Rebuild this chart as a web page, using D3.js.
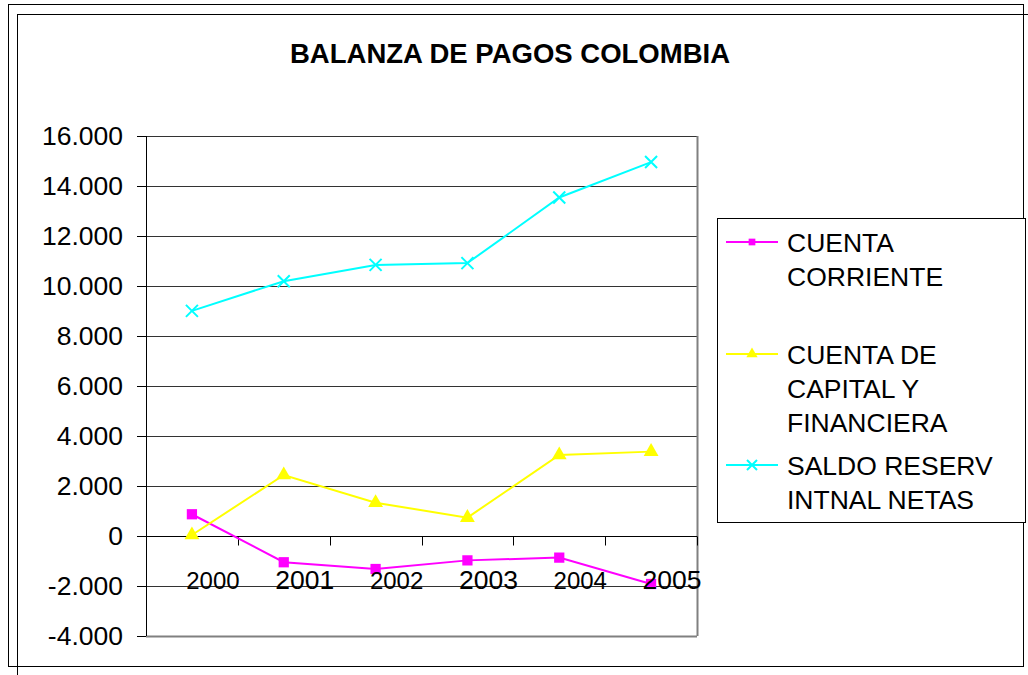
<!DOCTYPE html>
<html>
<head>
<meta charset="utf-8">
<script src="https://cdn.jsdelivr.net/npm/d3@7"></script>
<style>
  body { margin: 0; background: #fff; }
  svg { display: block; font-family: "Liberation Sans", Arial, sans-serif; }
</style>
</head>
<body>
<div id="chart-area"></div>
<script>
// data
var years = ['2000', '2001', '2002', '2003', '2004', '2005'];
var cuentaCorriente = [870, -1050, -1320, -975, -865, -1920];
var cuentaCapital = [40, 2440, 1330, 735, 3240, 3375];
var saldoReservas = [9006, 10192, 10844, 10916, 13540, 14957];
var yTicks = [-4000, -2000, 0, 2000, 4000, 6000, 8000, 10000, 12000, 14000, 16000];
var seriesNames = [['CUENTA', 'CORRIENTE'], ['CUENTA DE', 'CAPITAL Y', 'FINANCIERA'], ['SALDO RESERV', 'INTNAL NETAS']];

var W = 1028, H = 675;
var margin = { top: 136, left: 146, right: 331, bottom: 39 };
var width = W - margin.left - margin.right,
    height = H - margin.top - margin.bottom;

var svg = d3.select('#chart-area').append('svg')
    .attr('width', W)
    .attr('height', H);

// double frame
svg.append('rect')
  .attr('x', 8.5).attr('y', 4.5)
  .attr('width', 1015).attr('height', 662)
  .attr('fill', 'none').attr('stroke', '#000');
svg.append('rect')
  .attr('x', 17.5).attr('y', 14.5)
  .attr('width', 1020).attr('height', 680)
  .attr('fill', 'none').attr('stroke', '#000');

// title
svg.append('text')
  .attr('x', 510)
  .attr('y', 63)
  .attr('text-anchor', 'middle')
  .attr('font-size', '27.5px')
  .attr('font-weight', 'bold')
  .text('BALANZA DE PAGOS COLOMBIA');

var g = svg.append('g')
  .attr('transform', 'translate(' + margin.left + ',' + margin.top + ')');

var x = d3.scaleBand()
  .domain(years)
  .range([0, width]);

var y = d3.scaleLinear()
  .domain([-4000, 16000])
  .range([height, 0]);

var fmt = function(d) { return d3.format(',')(d).replace(/,/g, '.').replace('\u2212', '-'); };

// gridlines
g.append('g')
  .selectAll('line')
  .data(yTicks)
  .enter().append('line')
  .attr('x1', 0).attr('x2', width)
  .attr('y1', function(d) { return Math.round(y(d)) + 0.5; })
  .attr('y2', function(d) { return Math.round(y(d)) + 0.5; })
  .attr('stroke', function(d) { return d === -4000 ? '#808080' : '#333'; })
  .attr('stroke-width', 1);

// right and bottom border of plot
g.append('line')
  .attr('x1', width + 0.5).attr('x2', width + 0.5)
  .attr('y1', 0).attr('y2', height)
  .attr('stroke', '#808080').attr('stroke-width', 2);
g.append('line')
  .attr('x1', 0).attr('x2', width)
  .attr('y1', height + 0.5).attr('y2', height + 0.5)
  .attr('stroke', '#808080').attr('stroke-width', 2);

// y axis
var yAxis = d3.axisLeft(y)
  .tickValues(yTicks)
  .tickSize(9)
  .tickPadding(14)
  .tickFormat(fmt);
var yaxisGroup = g.append('g').attr('class', 'y-axis').call(yAxis);
yaxisGroup.select('.domain').attr('stroke', '#000').attr('d', 'M0.5,0V' + height);
yaxisGroup.selectAll('text')
  .attr('font-size', '26.5px')
  .attr('font-family', '"Liberation Sans", Arial, sans-serif')
  .attr('fill', '#000');

// x axis at zero
var xAxis = d3.axisBottom(x).tickSize(9).tickFormat('');
var xaxisGroup = g.append('g')
  .attr('class', 'x-axis')
  .attr('transform', 'translate(0,' + (Math.round(y(0)) + 0.5) + ')')
  .call(xAxis);
xaxisGroup.select('.domain').attr('d', 'M0,0H' + width).attr('stroke', '#000');
// ticks at band boundaries
xaxisGroup.selectAll('.tick').remove();
xaxisGroup.selectAll('line.bt')
  .data(years.slice(1).concat(['end']))
  .enter().append('line')
  .attr('class', 'bt')
  .attr('x1', function(d, i) { return Math.round(x.step() * (i + 1)) + 0.5; })
  .attr('x2', function(d, i) { return Math.round(x.step() * (i + 1)) + 0.5; })
  .attr('y1', 0).attr('y2', 9)
  .attr('stroke', '#000');

var cx = function(d, i) { return x(years[i]) + x.bandwidth() / 2; };
var line = d3.line()
  .x(cx)
  .y(function(d) { return y(d); });

var series = [
  { values: cuentaCorriente, color: '#ff00ff', symbol: d3.symbolSquare, size: 105, lsize: 45 },
  { values: cuentaCapital, color: '#ffff00', symbol: d3.symbolTriangle, size: 95, lsize: 55 },
  { values: saldoReservas, color: '#00ffff', symbol: 'x', size: 6, lsize: 5 }
];

function drawMarker(sel, s, sz) {
  if (s.symbol === 'x') {
    sel.append('path')
      .attr('d', 'M' + (-sz) + ',' + (-sz) + 'L' + sz + ',' + sz +
                 'M' + (-sz) + ',' + sz + 'L' + sz + ',' + (-sz))
      .attr('stroke', s.color).attr('stroke-width', 2).attr('fill', 'none');
  } else {
    sel.append('path')
      .attr('d', d3.symbol().type(s.symbol).size(sz)())
      .attr('fill', s.color);
  }
}

series.forEach(function(s) {
  g.append('path')
    .datum(s.values)
    .attr('fill', 'none')
    .attr('stroke', s.color)
    .attr('stroke-width', 2)
    .attr('d', line);
  g.selectAll(null)
    .data(s.values)
    .enter().append('g')
    .attr('transform', function(d, i) { return 'translate(' + cx(d, i) + ',' + y(d) + ')'; })
    .each(function() { drawMarker(d3.select(this), s, s.size); });
});

// category labels (drawn above the series, as in the original)
g.append('g')
  .selectAll('text')
  .data(years)
  .enter().append('text')
  .attr('x', function(d) { return x(d) + x.bandwidth() / 2 + 21; })
  .attr('y', y(0) + 53)
  .attr('text-anchor', 'middle')
  .attr('font-size', function(d, i) { return i % 2 === 0 ? '24px' : '26.5px'; })
  .text(function(d) { return d; });

// legend
var legend = svg.append('g');
legend.append('rect')
  .attr('x', 717.5).attr('y', 218.5)
  .attr('width', 308).attr('height', 304)
  .attr('fill', '#fff').attr('stroke', '#000');

var legendY = [242, 354, 465];
series.forEach(function(s, k) {
  var lg = legend.append('g');
  lg.append('line')
    .attr('x1', 726).attr('x2', 778)
    .attr('y1', legendY[k]).attr('y2', legendY[k])
    .attr('stroke', s.color).attr('stroke-width', 2);
  var mk = lg.append('g').attr('transform', 'translate(752,' + legendY[k] + ')');
  drawMarker(mk, s, s.lsize);
  lg.append('text')
    .attr('x', 787)
    .attr('y', legendY[k] + 10)
    .attr('font-size', '26.5px')
    .selectAll('tspan')
    .data(seriesNames[k])
    .enter().append('tspan')
    .attr('x', 787)
    .attr('dy', function(d, i) { return i === 0 ? 0 : 34; })
    .text(function(d) { return d; });
});
</script>
</body>
</html>
